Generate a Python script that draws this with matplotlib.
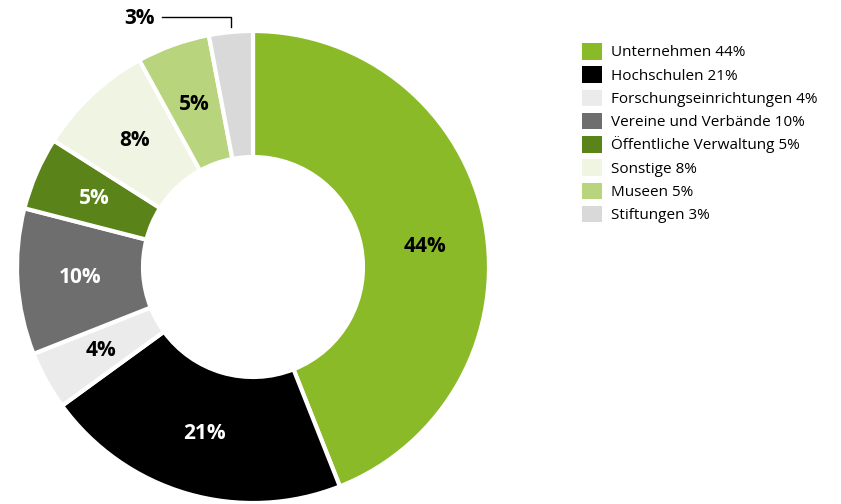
import numpy as np
import matplotlib.pyplot as plt

plt.rcParams['font.family'] = ['Open Sans', 'DejaVu Sans']

# Anteile nach Einrichtungsart
categories = ["Unternehmen", "Hochschulen", "Forschungseinrichtungen",
              "Vereine und Verbände", "Öffentliche Verwaltung", "Sonstige",
              "Museen", "Stiftungen"]
shares = [44, 21, 4, 10, 5, 8, 5, 3]
colors = ["#8aba28", "#000000", "#ebebeb", "#6e6e6e", "#5a8419", "#f0f4e3",
          "#b8d47c", "#d9d9d9"]
label_colors = ["black", "white", "black", "white", "white", "black",
                "black", "black"]

fig = plt.figure(figsize=(8.41, 5.04), dpi=100)
W, H = 841, 504
cx, cy, R = 253, 267, 236
ax = fig.add_axes([(cx - R) / W, (H - cy - R) / H, 2 * R / W, 2 * R / H])

inner = 110 / 236
wedges, _ = ax.pie(shares, colors=colors, startangle=90, counterclock=False,
                   radius=1, wedgeprops=dict(width=1 - inner, edgecolor="white",
                                             linewidth=3))
ax.set_xlim(-1, 1)
ax.set_ylim(-1, 1)
ax.set_aspect("equal")
ax.axis("off")

# Prozentwerte in den Ringsegmenten
total = sum(shares)
start = 90.0
r_lab = (1 + inner) / 2
for i, v in enumerate(shares):
    span = 360.0 * v / total
    mid_deg = start - span / 2
    start -= span
    if i == 0:
        mid_deg -= 4  # großes Segment: Wert etwas tiefer setzen
    mid = np.deg2rad(mid_deg)
    if i == len(shares) - 1:
        # kleines Segment: Beschriftung außerhalb mit Führungslinie
        x0 = np.cos(mid)
        ax.plot([x0, x0, -0.385], [1.017, 1.059, 1.059], color="black",
                lw=1, clip_on=False)
        ax.text(-0.415, 1.055, f"{v}%", ha="right", va="center",
                fontsize=15, fontweight="bold", color="black")
        continue
    ax.text(r_lab * np.cos(mid), r_lab * np.sin(mid), f"{v}%",
            ha="center", va="center", fontsize=15, fontweight="bold",
            color=label_colors[i])

fig.legend(wedges, [f"{c} {v}%" for c, v in zip(categories, shares)],
           loc="upper left", bbox_to_anchor=(582 / W, 1 - 43 / H),
           frameon=False, fontsize=11, handlelength=1.3, handleheight=1.3,
           handletextpad=0.6, labelspacing=0.38, borderaxespad=0,
           borderpad=0)
for h in fig.legends[0].legend_handles:
    h.set_edgecolor("none")

fig.savefig("out.png", dpi=100)
